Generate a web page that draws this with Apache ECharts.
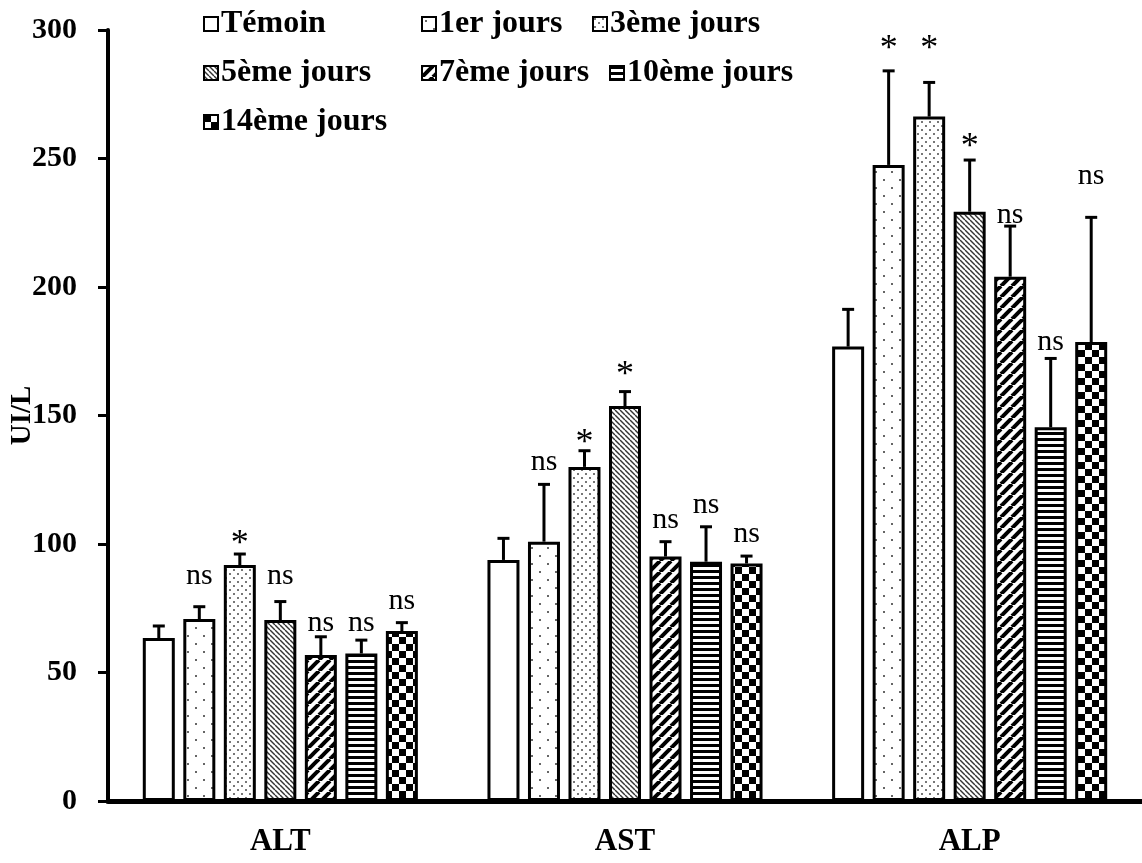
<!DOCTYPE html>
<html>
<head>
<meta charset="utf-8">
<script src="https://cdn.jsdelivr.net/npm/echarts@6/dist/echarts.min.js"></script>
<style>
html,body{margin:0;padding:0;background:#fff;}
#chart{width:1142px;height:863px;}
</style>
</head>
<body>
<div id="chart"></div>
<script>
// ---- data ----
const categories = ['ALT', 'AST', 'ALP'];
const seriesNames = ['Témoin', '1er jours', '3ème jours', '5ème jours', '7ème jours', '10ème jours', '14ème jours'];
const yTicks = [0, 50, 100, 150, 200, 250, 300];

const meanTemoin = [63.4, 93.8, 176.8];
const mean1 = [70.8, 100.9, 247.5];
const mean3 = [91.8, 130.0, 266.3];
const mean5 = [70.4, 153.7, 229.3];
const mean7 = [56.8, 95.1, 204.0];
const mean10 = [57.4, 93.1, 145.4];
const mean14 = [66.1, 92.4, 178.6];

const sdTemoin = [4.7, 8.4, 14.5];
const sd1 = [4.8, 22.3, 36.6];
const sd3 = [4.3, 6.3, 13.3];
const sd5 = [7.2, 5.6, 20.1];
const sd7 = [7.1, 5.8, 19.7];
const sd10 = [5.2, 13.6, 26.8];
const sd14 = [3.3, 2.9, 48.5];

const sigTemoin = ['', '', ''];
const sig1 = ['ns', 'ns', '*'];
const sig3 = ['*', '*', '*'];
const sig5 = ['ns', '*', '*'];
const sig7 = ['ns', 'ns', 'ns'];
const sig10 = ['ns', 'ns', 'ns'];
const sig14 = ['ns', 'ns', 'ns'];

// level (UI/L) at which each significance mark sits in the picture
const sigLevelTemoin = [0, 0, 0];
const sigLevel1 = [87.4, 131.7, 293.2];
const sigLevel3 = [100.4, 139.9, 293.2];
const sigLevel5 = [87.4, 166.3, 255.1];
const sigLevel7 = [69.1, 109.1, 228.0];
const sigLevel10 = [69.1, 115.2, 178.4];
const sigLevel14 = [77.6, 103.9, 243.0];

const means = [meanTemoin, mean1, mean3, mean5, mean7, mean10, mean14];
const sds = [sdTemoin, sd1, sd3, sd5, sd7, sd10, sd14];
const sigs = [sigTemoin, sig1, sig3, sig5, sig7, sig10, sig14];
const sigLevels = [sigLevelTemoin, sigLevel1, sigLevel3, sigLevel5, sigLevel7, sigLevel10, sigLevel14];

// ---- patterns ----
function tile(w, h, draw) {
  const c = document.createElement('canvas');
  c.width = w; c.height = h;
  const g = c.getContext('2d');
  g.fillStyle = '#fff';
  g.fillRect(0, 0, w, h);
  draw(g, w, h);
  return { image: c, repeat: 'repeat' };
}
const patterns = [
  tile(4, 4, function () {}),
  tile(16, 16, function (g) { g.fillStyle = '#666'; g.fillRect(3, 3, 2, 2); g.fillRect(11, 11, 2, 2); }),
  tile(8, 8, function (g) { g.fillStyle = '#777'; g.fillRect(1, 1, 2, 2); g.fillRect(5, 5, 2, 2); }),
  tile(5, 5, function (g, w, h) {
    g.strokeStyle = '#333'; g.lineWidth = 1.4;
    for (let k = -1; k <= 1; k++) { g.beginPath(); g.moveTo(k * w, 0); g.lineTo(k * w + w, h); g.stroke(); }
  }),
  tile(11, 11, function (g, w, h) {
    g.strokeStyle = '#000'; g.lineWidth = 4;
    for (let k = -1; k <= 1; k++) { g.beginPath(); g.moveTo(k * w, h); g.lineTo(k * w + w, 0); g.stroke(); }
  }),
  tile(2, 6, function (g) { g.fillStyle = '#000'; g.fillRect(0, 0, 2, 3); }),
  tile(14, 14, function (g) { g.fillStyle = '#000'; g.fillRect(0, 0, 7, 7); g.fillRect(7, 7, 7, 7); })
];

const FONT = '"Liberation Serif","Times New Roman",serif';
const barW = 32;
const gapRatio = 0.266;

const series = [];
seriesNames.forEach(function (name, i) {
  series.push({
    type: 'bar',
    name: name,
    data: means[i],
    barWidth: barW,
    barGap: (gapRatio * 100) + '%',
    itemStyle: { color: patterns[i], borderColor: '#000', borderWidth: 3 },
    z: 2
  });
});
seriesNames.forEach(function (name, i) {
  series.push({
    type: 'custom',
    name: name + ' err',
    z: 3,
    silent: true,
    data: categories.map(function (c, ci) { return [ci, means[i][ci], sds[i][ci], sigLevels[i][ci]]; }),
    renderItem: function (params, api) {
      const ci = api.value(0), m = api.value(1), s = api.value(2), lv = api.value(3);
      const base = api.coord([ci, m]);
      const top = api.coord([ci, m + s]);
      const x = base[0] + (i - 3) * barW * (1 + gapRatio);
      const children = [
        { type: 'line', shape: { x1: x, y1: base[1], x2: x, y2: top[1] }, style: { stroke: '#000', lineWidth: 3 } },
        { type: 'line', shape: { x1: x - 6, y1: top[1], x2: x + 6, y2: top[1] }, style: { stroke: '#000', lineWidth: 3 } }
      ];
      const t = sigs[i][ci];
      if (t) {
        const isStar = t === '*';
        children.push({
          type: 'text',
          x: x, y: api.coord([ci, lv])[1] + (isStar ? 2 : 0),
          style: { text: t, font: (isStar ? '36px ' : '30px ') + FONT, fill: '#000', align: 'center', verticalAlign: 'middle' }
        });
      }
      return { type: 'group', children: children };
    }
  });
});

// legend layout (one component per item, like the reference's grid of entries)
const legendSpots = [[203, 8], [421, 8], [592, 8], [203, 57], [421, 57], [609, 57], [203, 106]];
const legends = seriesNames.map(function (name, i) {
  return {
    data: [name],
    left: legendSpots[i][0],
    top: legendSpots[i][1],
    padding: 0,
    itemWidth: 14,
    itemHeight: 14,
    selectedMode: false,
    icon: 'rect',
    itemStyle: { borderColor: '#000', borderWidth: 2 },
    textStyle: { fontFamily: FONT, fontWeight: 'bold', fontSize: 32, color: '#000', padding: [0, 0, 0, -2] }
  };
});

const chart = echarts.init(document.getElementById('chart'), null, { renderer: 'canvas' });
chart.setOption({
  animation: false,
  backgroundColor: '#fff',
  legend: legends,
  grid: { left: 108, right: 0, top: 30, bottom: 62, containLabel: false, outerBoundsMode: 'none' },
  xAxis: {
    type: 'category',
    data: categories,
    axisLine: { lineStyle: { color: '#000', width: 5 } },
    axisTick: { show: false },
    axisLabel: { fontFamily: FONT, fontWeight: 'bold', fontSize: 31, color: '#000', margin: 25 }
  },
  yAxis: {
    type: 'value',
    min: yTicks[0],
    max: yTicks[yTicks.length - 1],
    interval: yTicks[1] - yTicks[0],
    name: 'UI/L',
    nameLocation: 'middle',
    nameRotate: 90,
    nameGap: 71,
    nameMoveOverlap: false,
    nameTextStyle: { fontFamily: FONT, fontWeight: 'bold', fontSize: 29, color: '#000' },
    axisLine: { show: true, lineStyle: { color: '#000', width: 4 } },
    axisTick: { show: true, length: 10, lineStyle: { color: '#000', width: 3 } },
    axisLabel: { fontFamily: FONT, fontWeight: 'bold', fontSize: 30, color: '#000', margin: 31 },
    splitLine: { show: false }
  },
  series: series
});
</script>
</body>
</html>
